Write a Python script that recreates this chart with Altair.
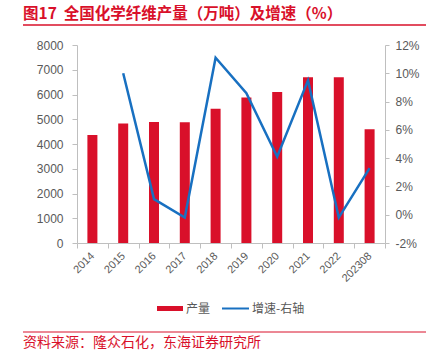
import altair as alt
import pandas as pd

years = ["2014", "2015", "2016", "2017", "2018", "2019", "2020", "2021", "2022", "202308"]
output = [4360, 4830, 4890, 4880, 5420, 5880, 6100, 6700, 6700, 4600]
growth = [None, 10.0, 1.1, -0.2, 11.1, 8.6, 4.1, 9.5, -0.2, 3.3]

RED = "#d9102a"
BLUE = "#1870c1"
GREY = "#595959"
AXIS = "#bfbfbf"
CJK = "Noto Sans CJK SC"
LAT = "Liberation Sans"

df = pd.DataFrame({"year": years, "output": output, "growth": growth})

W, H = 308, 198

xscale = alt.Scale(domain=years, paddingInner=0, paddingOuter=0)

bars = alt.Chart(df).mark_bar(size=10, color=RED).encode(
    x=alt.X("year:N", sort=years, scale=xscale, title=None,
            axis=alt.Axis(labelAngle=-45, labelAlign="right", labelBaseline="middle",
                          labelFont=LAT, labelFontSize=11, labelColor=GREY,
                          domainColor=AXIS, tickColor=AXIS, tickSize=5,
                          tickBand="extent", labelPadding=6)),
    y=alt.Y("output:Q", scale=alt.Scale(domain=[0, 8000]), title=None,
            axis=alt.Axis(values=list(range(0, 8001, 1000)), grid=False, format="d",
                          labelFont=LAT, labelFontSize=12, labelColor=GREY,
                          domainColor=AXIS, tickColor=AXIS, tickSize=5, labelPadding=9)),
)

line = alt.Chart(df).transform_filter("datum.growth != null").mark_line(
    color=BLUE, strokeWidth=2.5).encode(
    x=alt.X("year:N", sort=years, scale=xscale),
    y=alt.Y("growth:Q", scale=alt.Scale(domain=[-2, 12]), title=None,
            axis=alt.Axis(orient="right", values=list(range(-2, 13, 2)), grid=False,
                          labelExpr="datum.value + '%'",
                          labelFont=LAT, labelFontSize=12, labelColor=GREY,
                          domainColor=AXIS, tickColor=AXIS, tickSize=4, labelPadding=6)),
)

one = alt.Data(values=[{}])

def text(t, x, y, size, color, weight="normal", font=CJK, align="left"):
    return alt.Chart(one).mark_text(
        text=t, align=align, baseline="middle", fontSize=size, color=color,
        fontWeight=weight, font=font).encode(x=alt.value(x), y=alt.value(y))

def rule(x1, x2, y, color, w):
    return alt.Chart(one).mark_rule(color=color, strokeWidth=w).encode(
        x=alt.value(x1), x2=alt.value(x2), y=alt.value(y))

ox, oy = 77, 45
title = text("图17\u00a0\u00a0全国化学纤维产量（万吨）及增速（%）", 23 - ox, 14 - oy, 15.5, RED, "bold")
top_rule = rule(23 - ox, 426 - ox, 25 - oy, RED, 1.5)
bottom_rule = rule(23 - ox, 426 - ox, 332 - oy, RED, 1)
source = text("资料来源：隆众石化，东海证券研究所", 23 - ox, 343 - oy, 14, RED)

leg_bar = alt.Chart(one).mark_rect(color=RED).encode(
    x=alt.value(157 - ox), x2=alt.value(183 - ox),
    y=alt.value(306 - oy), y2=alt.value(311 - oy))
leg_bar_t = text("产量", 186 - ox, 308.5 - oy, 12, GREY)
leg_line = rule(222 - ox, 249 - ox, 308.5 - oy, BLUE, 2)
leg_line_t = text("增速-右轴", 252 - ox, 308.5 - oy, 12, GREY)

chart = alt.layer(
    bars, line, title, top_rule, bottom_rule, source,
    leg_bar, leg_bar_t, leg_line, leg_line_t
).resolve_scale(y="independent").properties(
    width=W, height=H,
    autosize=alt.AutoSizeParams(type="none"),
    padding={"left": ox, "top": oy, "right": 434 - ox - W, "bottom": 354 - oy - H},
    background="white",
).configure_view(stroke=None)

chart.save("out.html", embed_options={"renderer": "svg", "actions": False})
